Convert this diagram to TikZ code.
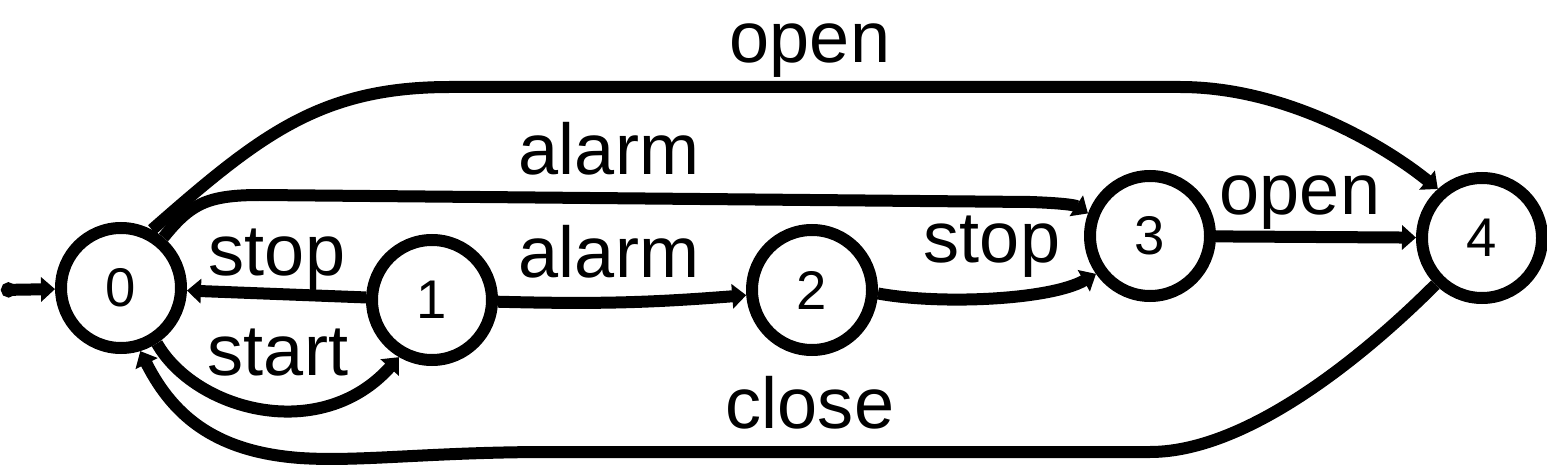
\documentclass[tikz,border=0pt]{standalone}
\usepackage{fontspec}
\setmainfont{Liberation Sans}
\usetikzlibrary{arrows.meta}

\begin{document}
\begin{tikzpicture}[->,>={Triangle[length=0.14cm,width=0.24cm]},line width=0.12cm,
        state/.style={draw,circle,minimum size=1.2cm,inner sep=0pt,font=\fontsize{15.5}{18}\selectfont},
        lbl/.style={anchor=base,inner sep=0pt,font=\fontsize{20.5}{24}\selectfont}]
                \useasboundingbox (0,0) rectangle (15.47,-4.65);
                \node[state] (s0) at (1.21,-2.88) {0};
                \node[state] (s1) at (4.32,-3.00) {1};
                \node[state] (s2) at (8.12,-2.90) {2};
                \node[state] (s3) at (11.50,-2.36) {3};
                \node[state] (s4) at (14.82,-2.38) {4};
                \coordinate (init) at (0.01,-2.90);
                \draw[{Circle[length=0.15cm]}->] (init) -- (s0);
                \draw (s1) -- (s0);
                \draw (s0.-57) .. controls (1.95,-4.1) and (3.2,-4.45) .. (s1.-120);
                \draw (s1) to[bend right=3] (s2);
                \draw (s2.-3) .. controls (9.4,-3.05) and (10.5,-3.0) .. (s3.-145);
                \draw (s3) -- (s4);
                \draw (s0.50) .. controls (1.9,-2.05) and (2.05,-1.95) .. (2.6,-1.95) -- (10.3,-2.02) .. controls (10.6,-2.03) and (10.75,-2.05) .. (s3.160);
                \draw (s0.62) .. controls (2.6,-1.35) and (3.2,-0.87) .. (4.5,-0.87) -- (11.8,-0.87) .. controls (12.9,-0.87) and (13.9,-1.5) .. (s4.132);
                \draw (s4.-135) .. controls (13.7,-3.5) and (12.5,-4.52) .. (11.5,-4.52) -- (5.5,-4.52) .. controls (4.3,-4.52) and (3.6,-4.62) .. (3.0,-4.58) .. controls (2.2,-4.52) and (1.75,-4.2) .. (s0.-73);
                % labels
                \node[lbl] (l04) at (8.10,-0.63) {open};
                \node[lbl] (l03) at (6.09,-1.75) {alarm};
                \node[lbl] (l12) at (6.09,-2.77) {alarm};
                \node[lbl] (l10) at (2.77,-2.75) {stop};
                \node[lbl] (l01) at (2.78,-3.75) {start};
                \node[lbl] (l23) at (9.92,-2.63) {stop};
                \node[lbl] (l34) at (13.00,-2.15) {open};
                \node[lbl] (l40) at (8.10,-4.28) {close};
            \end{tikzpicture}
\end{document}
